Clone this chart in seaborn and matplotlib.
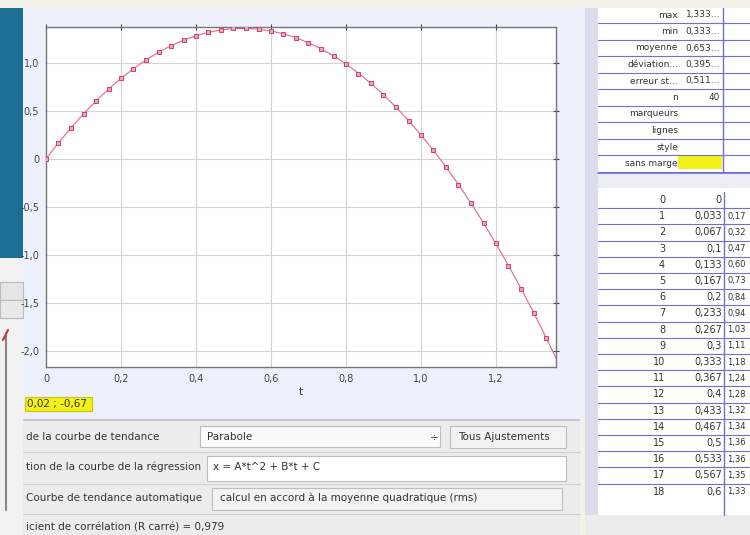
import numpy as np
import pandas as pd
import seaborn as sns
import matplotlib.pyplot as plt
from matplotlib.patches import Rectangle

t_vals = [0, 0.033, 0.067, 0.1, 0.133, 0.167, 0.2, 0.233, 0.267, 0.3,
          0.333, 0.367, 0.4, 0.433, 0.467, 0.5, 0.533, 0.567, 0.6, 0.633,
          0.667, 0.7, 0.733, 0.767, 0.8, 0.833, 0.867, 0.9, 0.933, 0.967,
          1.0, 1.033, 1.067, 1.1, 1.133, 1.167, 1.2, 1.233, 1.267, 1.3, 1.333]
y_vals = [0.0, 0.17, 0.32, 0.47, 0.60, 0.73, 0.84, 0.94, 1.03, 1.11,
          1.18, 1.24, 1.28, 1.32, 1.34, 1.36, 1.36, 1.35, 1.33, 1.30,
          1.26, 1.21, 1.15, 1.07, 0.99, 0.89, 0.79, 0.67, 0.54, 0.40,
          0.25, 0.09, -0.08, -0.27, -0.46, -0.67, -0.88, -1.11, -1.35, -1.60, -1.86]

x_ticks = [0, 0.2, 0.4, 0.6, 0.8, 1.0, 1.2]
x_labels = ['0', '0,2', '0,4', '0,6', '0,8', '1,0', '1,2']
y_ticks = [1.0, 0.5, 0, -0.5, -1.0, -1.5, -2.0]
y_labels = ['1,0', '0,5', '0', '-0,5', '-1,0', '-1,5', '-2,0']

stats_names = ['max', 'min', 'moyenne', 'déviation...', 'erreur st...', 'n',
               'marqueurs', 'lignes', 'style', 'sans marge']
stats_vals = ['1,333...', '0,333...', '0,653...', '0,395...', '0,511...', '40',
              '', '', '', '']

df = pd.DataFrame({'t': t_vals, 'y': y_vals})

sns.set_theme(style='whitegrid')
plt.rcParams['font.family'] = ['DejaVu Sans']

W, H = 750, 535
fig = plt.figure(figsize=(7.5, 5.35), dpi=100)

# fond de la fenêtre (coordonnées en pixels)
bg = fig.add_axes([0, 0, 1, 1], zorder=0)
bg.set_xlim(0, W)
bg.set_ylim(H, 0)
bg.axis('off')


def box(x0, y0, x1, y1, fc, ec='none', lw=0.8):
    bg.add_patch(Rectangle((x0, y0), x1 - x0, y1 - y0, facecolor=fc, edgecolor=ec, linewidth=lw))


box(0, 0, W, H, '#f4f1e8')
box(0, 8, 590, 420, '#eef0fb')
box(0, 8, 23, 258, '#1c6e92')
box(0, 258, 23, 535, '#f2f2f2')
box(0, 282, 23, 300, '#e6e6e6', '#bbbbbb')
box(0, 300, 23, 318, '#e9e9e9', '#bbbbbb')
bg.plot([6, 6], [335, 510], color='#888888', lw=1.5)
bg.plot([3, 8], [340, 330], color='#c0392b', lw=1.5)

# zone du bas
box(23, 420, 580, 535, '#ececec')
box(23, 419, 580, 421, '#c8c8c8')
box(200, 426, 440, 447, '#fafafa', '#bdbdbd')
box(450, 426, 566, 448, '#f3f3f3', '#bdbdbd')
box(207, 456, 566, 481, '#ffffff', '#bdbdbd')
box(212, 488, 562, 510, '#f3f3f3', '#bdbdbd')
bg.plot([23, 580], [452, 452], color='#d0d0d0', lw=0.8)
bg.plot([23, 580], [484, 484], color='#d0d0d0', lw=0.8)
bg.plot([23, 580], [514, 514], color='#d0d0d0', lw=0.8)
box(25, 397, 92, 411, '#f2f21a', '#c8c800')

tk = dict(fontsize=7.5, color='#333333', va='center')
bg.text(27, 404, '0,02 ; -0,67', **tk)
bg.text(26, 437, 'de la courbe de tendance', **tk)
bg.text(207, 437, 'Parabole', **tk)
bg.text(430, 437, '÷', **tk)
bg.text(458, 437, 'Tous Ajustements', **tk)
bg.text(26, 467, 'tion de la courbe de la régression', **tk)
bg.text(213, 467, 'x = A*t^2 + B*t + C', **tk)
bg.text(26, 498, 'Courbe de tendance automatique', **tk)
bg.text(220, 498, 'calcul en accord à la moyenne quadratique (rms)', **tk)
bg.text(26, 527, 'icient de corrélation (R carré) = 0,979', **tk)

# panneau de droite (tableau)
box(585, 8, 598, 535, '#dcdcee')
box(598, 8, W, 172, '#ffffff')
box(598, 172, W, 188, '#ececf4')
box(598, 188, W, 515, '#ffffff')
box(585, 515, W, 535, '#ececec')
line_c = '#6f6fd8'
for i, (name, val) in enumerate(zip(stats_names, stats_vals)):
    yc = 15 + i * 16.5
    bg.plot([598, W], [yc + 8, yc + 8], color=line_c, lw=0.8)
    bg.text(678, yc, name, fontsize=6.5, color='#333333', va='center', ha='right')
    if val:
        bg.text(720, yc, val, fontsize=6.5, color='#333333', va='center', ha='right')
box(678, 155, 722, 169, '#f2f21a')
bg.plot([598, W], [173, 173], color=line_c, lw=1.2)
bg.plot([723, 723], [8, 172], color=line_c, lw=1)

bg.text(665, 200, '0', fontsize=7, color='#333333', va='center', ha='right')
bg.text(722, 200, '0', fontsize=7, color='#333333', va='center', ha='right')
for i in range(1, 19):
    yc = 200 + i * 16.2
    bg.plot([598, W], [yc - 8, yc - 8], color=line_c, lw=0.8)
    bg.text(665, yc, str(i), fontsize=7, color='#333333', va='center', ha='right')
    bg.text(722, yc, f'{t_vals[i]:.3g}'.replace('.', ','), fontsize=7, color='#333333',
            va='center', ha='right')
    bg.text(727, yc, f'{y_vals[i]:.2f}'.replace('.', ','), fontsize=6, color='#333333',
            va='center', ha='left')
bg.plot([724, 724], [192, 515], color=line_c, lw=1)

# graphe principal
ax = fig.add_axes([46 / W, 1 - 367 / H, 510 / W, 340 / H], zorder=2)
ax.set_facecolor('white')

coef = np.polyfit(df['t'], df['y'], 2)
t_fit = np.linspace(0, 1.37, 200)
fit = pd.DataFrame({'t': t_fit, 'y': np.polyval(coef, t_fit)})
sns.lineplot(data=fit, x='t', y='y', ax=ax, color='#e8638e', linewidth=0.8)
sns.scatterplot(data=df, x='t', y='y', ax=ax, marker='s', s=11,
                color='#f2a0bb', edgecolor='#c8466e', linewidth=0.7, zorder=3)

ax.set_xlim(0, 1.36)
ax.set_ylim(-2.167, 1.375)
ax.set_xticks(x_ticks)
ax.set_xticklabels(x_labels)
ax.set_yticks(y_ticks)
ax.set_yticklabels(y_labels)
ax.tick_params(axis='both', labelsize=7, colors='#444444', direction='inout',
               length=4, width=0.8, pad=3, right=True, top=True)
ax.grid(True, color='#d4d4d4', linewidth=0.8)
for s in ax.spines.values():
    s.set_color('#777777')
    s.set_linewidth(1.0)
ax.set_xlabel('t', fontsize=7.5, color='#333333', labelpad=2)
ax.set_ylabel('')

fig.savefig('out.png', dpi=100)
